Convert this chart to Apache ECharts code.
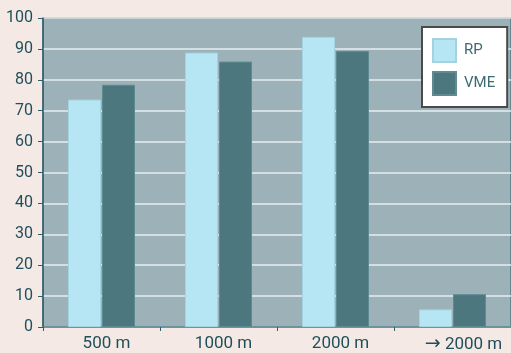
<!DOCTYPE html>
<html>
<head>
<meta charset="utf-8">
<script src="https://cdn.jsdelivr.net/npm/echarts@6/dist/echarts.min.js"></script>
<style>
html,body{margin:0;padding:0;background:#f4e9e4;}
#chart{width:511px;height:353px;}
</style>
</head>
<body>
<div id="chart"></div>
<script>
// Distance classes and share values for the two groups
const categories = ['500 m', '1000 m', '2000 m', '\u2192 2000 m'];
const rpValues = [73.6, 88.8, 93.9, 5.7];
const vmeValues = [78.4, 85.9, 89.3, 10.6];
const yTicks = { min: 0, max: 100, interval: 10 };

const textColor = '#1f4f5a';

// Category labels sit a little right of the bar pair; the arrow is drawn larger
const categoryData = categories.map(function (c, i) {
  return {
    value: c,
    textStyle: { padding: [0, 0, 0, i === categories.length - 1 ? 22 : 10] }
  };
});

const chart = echarts.init(document.getElementById('chart'));
chart.setOption({
  backgroundColor: '#f4e9e4',
  animation: false,
  textStyle: { fontFamily: 'Roboto' },
  grid: {
    left: 43, right: 0, top: 18, bottom: 26,
    outerBoundsMode: 'none',
    show: true, backgroundColor: '#9cb2b8',
    borderColor: '#2e5e68', borderWidth: 1
  },
  legend: {
    orient: 'vertical',
    left: 422, top: 27,
    padding: [11, 12, 11, 10],
    itemWidth: 23, itemHeight: 23, itemGap: 8,
    backgroundColor: '#ffffff',
    borderColor: '#4a4a4a', borderWidth: 2,
    icon: 'rect',
    textStyle: { color: '#3d6a73', fontSize: 15, padding: [0, 0, 0, 3] },
    data: ['RP', 'VME']
  },
  xAxis: {
    type: 'category',
    data: categoryData,
    boundaryGap: true,
    axisLine: { lineStyle: { color: '#4f7e88', width: 1.5 } },
    axisTick: { show: true, length: 4, lineStyle: { color: '#2e5e68' } },
    axisLabel: {
      interval: 0,
      hideOverlap: false,
      color: textColor, fontSize: 17, margin: 8,
      formatter: function (v) {
        return v.indexOf('\u2192') === 0 ? '{a|\u2192}' + v.slice(1) : v;
      },
      rich: {
        a: { fontFamily: 'DejaVu Sans', fontSize: 19, color: textColor }
      }
    }
  },
  yAxis: {
    type: 'value',
    min: yTicks.min, max: yTicks.max, interval: yTicks.interval,
    axisLine: { show: true, lineStyle: { color: '#2e5e68', width: 1.5 } },
    axisTick: { show: true, length: 5, lineStyle: { color: '#2e5e68' } },
    axisLabel: { color: textColor, fontSize: 16, margin: 10 },
    splitLine: { show: true, lineStyle: { color: '#e6eef0', width: 1.5 } }
  },
  series: [
    {
      name: 'RP', type: 'bar', data: rpValues,
      barWidth: 33, barGap: '3%',
      itemStyle: { color: '#b6e5f3', borderColor: '#a3d3e0', borderWidth: 1 }
    },
    {
      name: 'VME', type: 'bar', data: vmeValues,
      barWidth: 33,
      itemStyle: { color: '#4d777e', borderColor: '#5f8a92', borderWidth: 1 }
    }
  ]
});
</script>
</body>
</html>
